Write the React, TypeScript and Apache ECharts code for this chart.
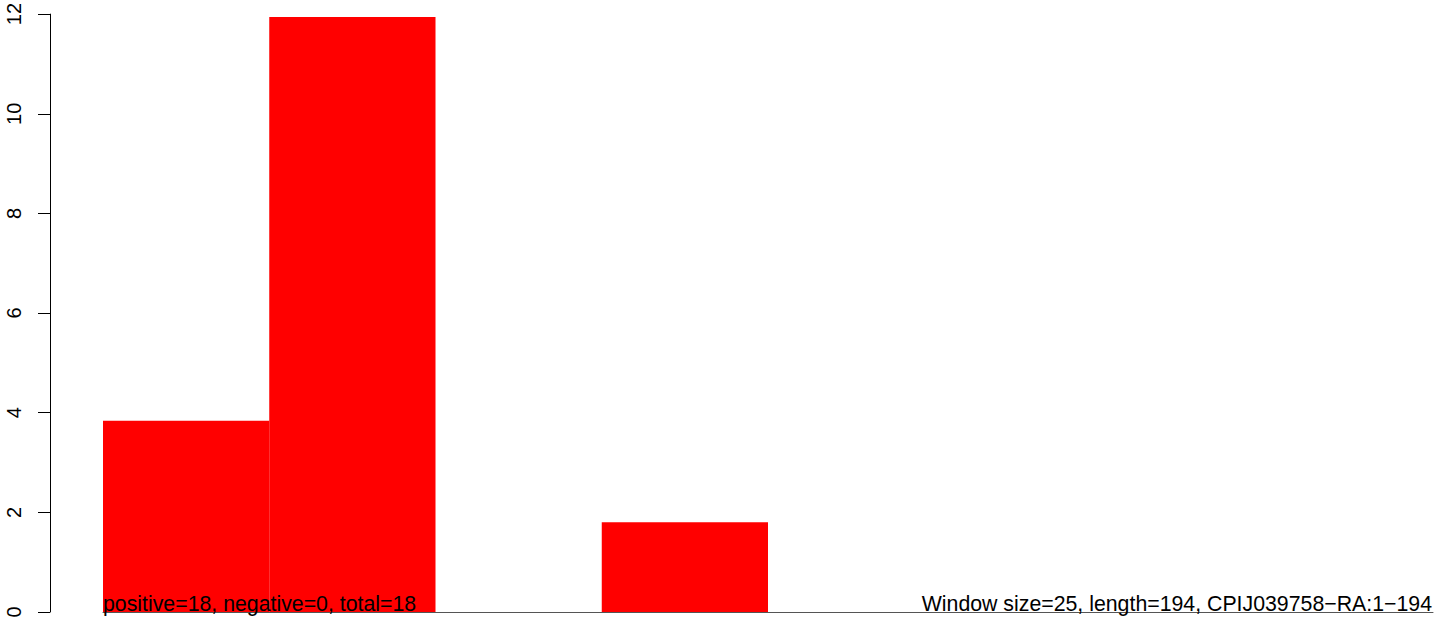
import React, { useEffect, useRef } from "react";
import * as echarts from "echarts";

const categories = ["1", "2", "3", "4", "5", "6", "7", "8"];
const values = [3.84, 11.94, 0, 1.8, 0, 0, 0, 0];
const yTicks = [0, 2, 4, 6, 8, 10, 12];
const leftNote = "positive=18, negative=0, total=18";
const rightNote = "Window size=25, length=194, CPIJ039758\u2212RA:1\u2212194";

const FONT = "'Liberation Sans', Arial, Helvetica, sans-serif";

export default function App() {
  const ref = useRef<HTMLDivElement>(null);
  useEffect(() => {
    if (!ref.current) return;
    const chart = echarts.init(ref.current, null, { renderer: "svg" });
    chart.setOption({
      animation: false,
      backgroundColor: "#ffffff",
      grid: { left: 103, right: 11, top: 11, bottom: 12, containLabel: false },
      xAxis: {
        type: "category",
        data: categories,
        axisLine: { show: true, lineStyle: { color: "#555555", width: 1 } },
        axisTick: { show: false },
        axisLabel: { show: false },
        splitLine: { show: false },
      },
      yAxis: {
        type: "value",
        min: yTicks[0],
        max: yTicks[yTicks.length - 1],
        interval: 2,
        offset: 53,
        axisLine: { show: true, lineStyle: { color: "#000000", width: 1 } },
        axisTick: { show: true, length: 12, lineStyle: { color: "#000000", width: 1 } },
        axisLabel: {
          show: true,
          rotate: 90,
          margin: 26,
          color: "#000000",
          fontSize: 20,
          fontFamily: FONT,
        },
        splitLine: { show: false },
      },
      series: [
        {
          type: "bar",
          data: values,
          barCategoryGap: "0%",
          itemStyle: { color: "#ff0000" },
        },
      ],
      graphic: [
        {
          type: "text",
          left: 103,
          top: 593,
          z: 100,
          style: { text: leftNote, fill: "#000000", font: `21.3px ${FONT}` },
        },
        {
          type: "text",
          right: 12,
          top: 593,
          z: 100,
          style: { text: rightNote, fill: "#000000", font: `21.3px ${FONT}` },
        },
      ],
    });
    return () => chart.dispose();
  }, []);
  return (
    <div
      ref={ref}
      style={{ position: "fixed", left: 0, top: 0, width: 1444, height: 624 }}
    />
  );
}
